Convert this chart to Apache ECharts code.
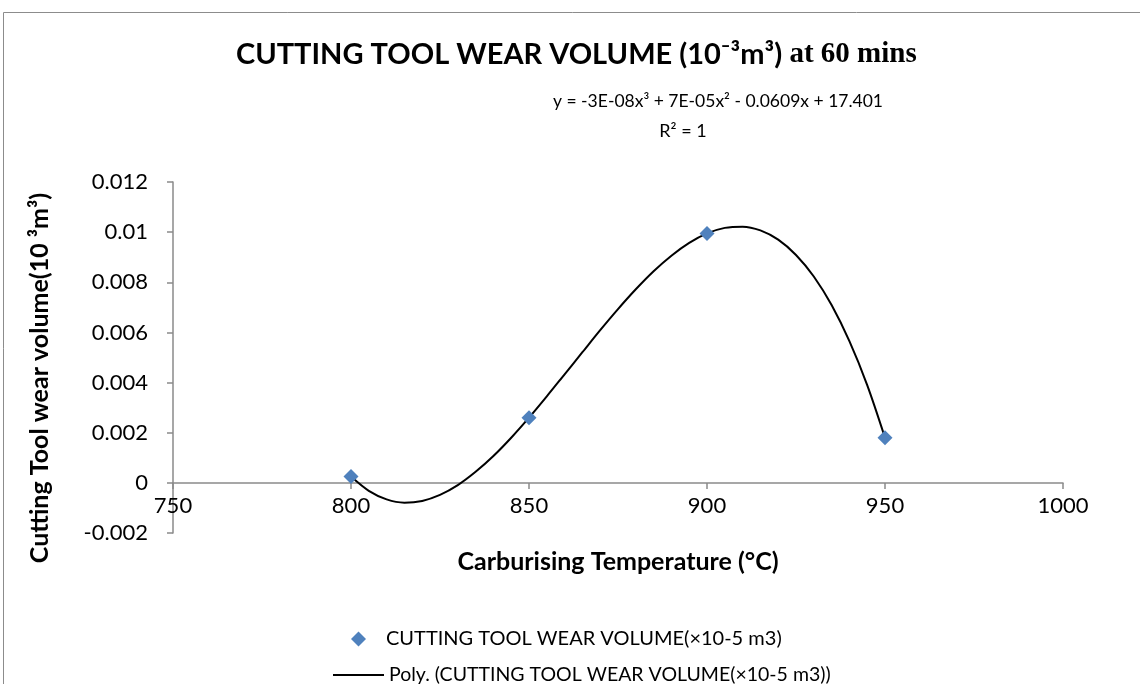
<!DOCTYPE html>
<html>
<head>
<meta charset="utf-8">
<script src="https://cdn.jsdelivr.net/npm/echarts@6/dist/echarts.min.js"></script>
<style>
  html, body { margin: 0; padding: 0; background: #fff; }
  #chart { width: 1140px; height: 684px; }
</style>
</head>
<body>
<div id="chart"></div>
<script>
// measured points
const temps = [800, 850, 900, 950];
const wear = [0.00025, 0.0026, 0.00995, 0.0018];

// poly trendline, every 5 °C
const trendX = [800, 805, 810, 815, 820, 825, 830, 835, 840, 845, 850, 855, 860, 865, 870, 875, 880, 885, 890, 895, 900, 905, 910, 915, 920, 925, 930, 935, 940, 945, 950];
const trendY = [0.00025, -0.00032, -0.00066, -0.00079, -0.00072, -0.00048, -0.00009, 0.00044, 0.00107, 0.0018, 0.0026, 0.00345, 0.00433, 0.00521, 0.00609, 0.00693, 0.00772, 0.00844, 0.00906, 0.00957, 0.00995, 0.01017, 0.01022, 0.01007, 0.0097, 0.00909, 0.00823, 0.00709, 0.00565, 0.0039, 0.0018];

const xTicks = { min: 750, max: 1000, step: 50 };
const yTicks = { min: -0.002, max: 0.012, step: 0.002 };

const scatterName = "CUTTING TOOL WEAR VOLUME(×10-5 m3)";
const polyName = "Poly. (CUTTING TOOL WEAR VOLUME(×10-5 m3))";

const FONT = "Lato";
const axisGrey = "#8a8a8a";

const myChart = echarts.init(document.getElementById("chart"));

myChart.setOption({
  animation: false,
  textStyle: { fontFamily: FONT, color: "#000" },
  title: {
    left: 231,
    top: 35,
    text: "{a|CUTTING TOOL WEAR VOLUME (10⁻³m³)}{b| at 60 mins}",
    textStyle: {
      rich: {
        a: { fontFamily: FONT, fontWeight: "bold", fontSize: 29, color: "#000" },
        b: { fontFamily: "Liberation Serif", fontWeight: "bold", fontSize: 29, color: "#000" }
      }
    }
  },
  grid: {
    left: 173,
    right: 77,
    top: 182,
    bottom: 151
  },
  legend: [
    {
      data: [scatterName],
      orient: "vertical",
      left: 346,
      top: 624,
      icon: "diamond",
      itemWidth: 15,
      itemHeight: 15,
      textStyle: { fontFamily: FONT, fontSize: 20, color: "#000", padding: [0, 0, 0, 15] }
    },
    {
      data: [polyName],
      orient: "vertical",
      left: 328,
      top: 660,
      icon: "rect",
      itemWidth: 51,
      itemHeight: 2,
      itemGap: 5,
      itemStyle: { color: "#000" },
      textStyle: { fontFamily: FONT, fontSize: 19.5, color: "#000" }
    }
  ],
  xAxis: {
    type: "value",
    min: xTicks.min,
    max: xTicks.max,
    interval: xTicks.step,
    position: "bottom",
    offset: -50,
    name: "Carburising Temperature (°C)",
    nameLocation: "middle",
    nameGap: 66,
    nameTextStyle: { fontFamily: FONT, fontWeight: "bold", fontSize: 25, color: "#000" },
    axisLine: { onZero: false, lineStyle: { color: axisGrey, width: 1.5 } },
    axisTick: { show: true, length: 6, lineStyle: { color: axisGrey, width: 1.5 } },
    axisLabel: { fontFamily: FONT, fontSize: 22, color: "#000", margin: 12, formatter: v => String(v) },
    splitLine: { show: false }
  },
  yAxis: {
    type: "value",
    min: yTicks.min,
    max: yTicks.max,
    interval: yTicks.step,
    axisLine: { show: true, onZero: false, lineStyle: { color: axisGrey, width: 1.5 } },
    axisTick: { show: true, length: 6, lineStyle: { color: axisGrey, width: 1.5 } },
    axisLabel: { fontFamily: FONT, fontSize: 22, color: "#000", margin: 25 },
    splitLine: { show: false }
  },
  graphic: [
    {
      type: "rect",
      silent: true,
      shape: { x: 3.5, y: 12.5, width: 1200, height: 700 },
      style: { fill: "none", stroke: "#8c8c8c", lineWidth: 1 }
    },
    {
      type: "text",
      x: 718,
      y: 101,
      style: {
        text: "y = -3E-08x³ + 7E-05x² - 0.0609x + 17.401",
        fontFamily: FONT,
        fontSize: 17.5,
        fill: "#000",
        align: "center",
        verticalAlign: "middle"
      }
    },
    {
      type: "text",
      x: 683,
      y: 131,
      style: {
        text: "R² = 1",
        fontFamily: FONT,
        fontSize: 18,
        fill: "#000",
        align: "center",
        verticalAlign: "middle"
      }
    },
    {
      type: "text",
      x: 40,
      y: 378,
      rotation: Math.PI / 2,
      style: {
        text: "Cutting Tool wear volume(10 ³m³)",
        fontFamily: FONT,
        fontWeight: "bold",
        fontSize: 25,
        fill: "#000",
        align: "center",
        verticalAlign: "middle"
      }
    }
  ],
  series: [
    {
      name: polyName,
      type: "line",
      data: trendX.map((x, i) => [x, trendY[i]]),
      smooth: 0.3,
      showSymbol: false,
      symbol: "none",
      silent: true,
      lineStyle: { color: "#000", width: 2 },
      itemStyle: { color: "#000" },
      z: 2
    },
    {
      name: scatterName,
      type: "scatter",
      data: temps.map((t, i) => [t, wear[i]]),
      symbol: "diamond",
      symbolSize: 15,
      itemStyle: { color: "#4f81bd", opacity: 1 },
      z: 3
    }
  ]
});
</script>
</body>
</html>
